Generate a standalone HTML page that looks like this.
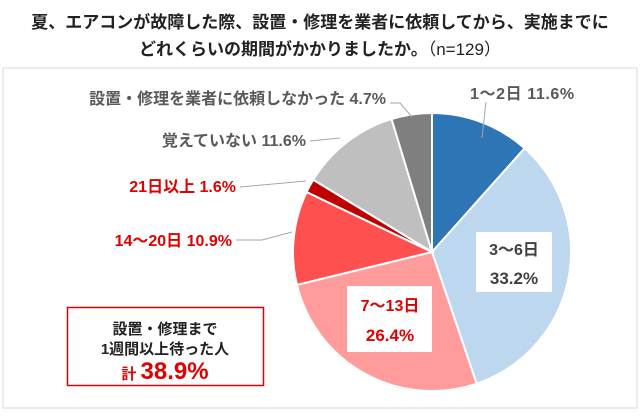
<!DOCTYPE html>
<html><head><meta charset="utf-8"><style>
body{margin:0;background:#fff;width:640px;height:411px;overflow:hidden}
svg text{font-family:"Liberation Sans","Noto Sans CJK JP",sans-serif;font-weight:bold}
</style></head><body>
<svg id="chart" width="640" height="411" viewBox="0 0 640 411">
<rect x="3" y="68" width="634" height="340" fill="none" stroke="#d9d9d9" stroke-width="1"/>
<text x="320" y="28" text-anchor="middle" font-size="17" fill="#222">夏、エアコンが故障した際、設置・修理を業者に依頼してから、実施までに</text>
<text x="320" y="55" text-anchor="middle" font-size="17" fill="#222">どれくらいの期間がかかりましたか。<tspan font-weight="normal">（n=129）</tspan></text>
<g id="slices"></g>
<g id="leaders" stroke="#a6a6a6" stroke-width="1" fill="none">
<polyline points="486,102 482,138"/>
<polyline points="390,103 400,103 412,117"/>
<polyline points="310,141 340,138"/>
<polyline points="240,187 306,181"/>
<polyline points="236,240 262,240 292,232"/>
</g>
<text x="470" y="99" font-size="16" fill="#595959" letter-spacing="0.6">1〜2日 11.6%</text>
<text x="386" y="104" text-anchor="end" font-size="16" fill="#595959">設置・修理を業者に依頼しなかった 4.7%</text>
<text x="306" y="146" text-anchor="end" font-size="16" fill="#595959">覚えていない 11.6%</text>
<text x="236" y="192" text-anchor="end" font-size="16" fill="#e00000">21日以上 1.6%</text>
<text x="232" y="246" text-anchor="end" font-size="16" fill="#e00000">14〜20日 10.9%</text>
<rect x="476" y="232" width="76" height="60" fill="#fff"/>
<text x="514" y="255" text-anchor="middle" font-size="16" fill="#404040">3〜6日</text>
<text x="514" y="284" text-anchor="middle" font-size="17" font-weight="normal" fill="#404040">33.2%</text>
<rect x="347" y="286" width="85" height="66" fill="#fff"/>
<text x="390" y="311" text-anchor="middle" font-size="16" fill="#e00000">7〜13日</text>
<text x="390" y="341" text-anchor="middle" font-size="17" fill="#e00000">26.4%</text>
<rect x="67.5" y="307.5" width="196" height="78" fill="#fff" stroke="#e00000" stroke-width="1.5"/>
<text x="165" y="334" text-anchor="middle" font-size="15" fill="#222">設置・修理まで</text>
<text x="165" y="354" text-anchor="middle" font-size="15" fill="#222">1週間以上待った人</text>
<text x="165" y="379" text-anchor="middle" font-size="15" fill="#e00000">計 <tspan font-size="24">38.9%</tspan></text>
</svg>
<script>
const categories = ["1〜2日","3〜6日","7〜13日","14〜20日","21日以上","覚えていない","設置・修理を業者に依頼しなかった"];
const values = [11.6, 33.2, 26.4, 10.9, 1.6, 11.6, 4.7];
const colors = ["#2E75B6","#BDD7EE","#FF9B9B","#FF5050","#C00000","#BFBFBF","#7F7F7F"];
const cx = 432, cy = 252, r = 139;
const g = document.getElementById('slices');
const total = values.reduce((a,b)=>a+b,0);
function angleScale(v){ return v / total * 2 * Math.PI; }
let a0 = -Math.PI/2;
values.forEach((v,i)=>{
  const a1 = a0 + angleScale(v);
  const x0 = cx + r*Math.cos(a0), y0 = cy + r*Math.sin(a0);
  const x1 = cx + r*Math.cos(a1), y1 = cy + r*Math.sin(a1);
  const large = (a1-a0) > Math.PI ? 1 : 0;
  const p = document.createElementNS('http://www.w3.org/2000/svg','path');
  p.setAttribute('d', `M${cx},${cy} L${x0},${y0} A${r},${r} 0 ${large} 1 ${x1},${y1} Z`);
  p.setAttribute('fill', colors[i]);
  p.setAttribute('stroke', '#fff');
  p.setAttribute('stroke-width', '2');
  
  
  g.appendChild(p);
  a0 = a1;
});
</script>
</body></html>
